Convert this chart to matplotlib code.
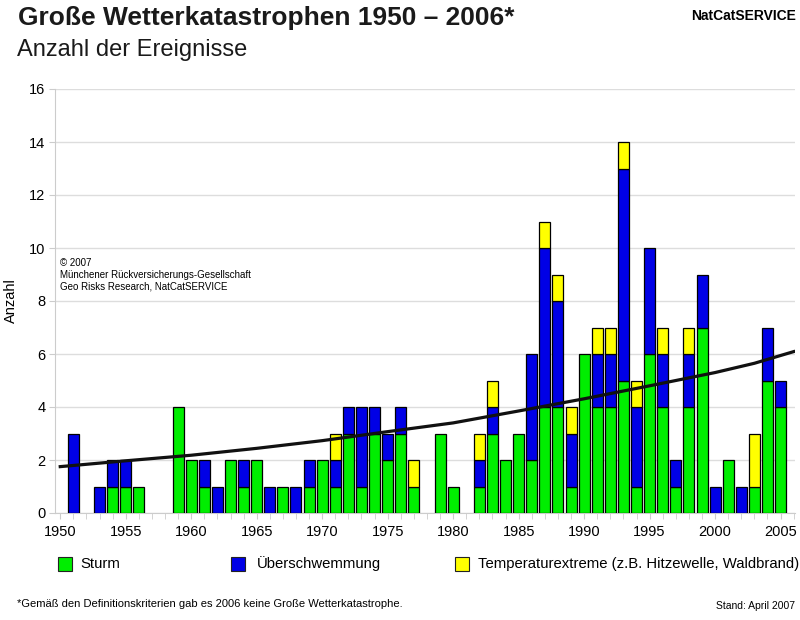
import matplotlib
matplotlib.use("Agg")
import matplotlib.pyplot as plt
from matplotlib.patches import Rectangle
import numpy as np

plt.rcParams['font.family'] = ['Liberation Sans', 'DejaVu Sans']

years = list(range(1950, 2006))
sturm = [0, 0, 0, 0, 1, 1, 1, 0, 0, 4,
         2, 1, 0, 2, 1, 2, 0, 1, 0, 1,
         2, 1, 3, 1, 3, 2, 3, 1, 0, 3,
         1, 0, 1, 3, 2, 3, 2, 4, 4, 1,
         6, 4, 4, 5, 1, 6, 4, 1, 4, 7,
         0, 2, 0, 1, 5, 4]
ueberschwemmung = [0, 3, 0, 1, 1, 1, 0, 0, 0, 0,
                   0, 1, 1, 0, 1, 0, 1, 0, 1, 1,
                   0, 1, 1, 3, 1, 1, 1, 0, 0, 0,
                   0, 0, 1, 1, 0, 0, 4, 6, 4, 2,
                   0, 2, 2, 8, 3, 4, 2, 1, 2, 2,
                   1, 0, 1, 0, 2, 1]
temperatur = [0, 0, 0, 0, 0, 0, 0, 0, 0, 0,
              0, 0, 0, 0, 0, 0, 0, 0, 0, 0,
              0, 1, 0, 0, 0, 0, 0, 1, 0, 0,
              0, 0, 1, 1, 0, 0, 0, 1, 1, 1,
              0, 1, 1, 1, 1, 0, 1, 0, 1, 0,
              0, 0, 0, 2, 0, 0]
trend_years = [1950, 1955, 1960, 1965, 1970, 1975, 1980, 1985, 1990, 1995, 2000, 2003, 2006]
trend_values = [1.75, 1.97, 2.18, 2.44, 2.73, 3.07, 3.40, 3.85, 4.31, 4.80, 5.30, 5.65, 6.09]
xtick_years = [1950, 1955, 1960, 1965, 1970, 1975, 1980, 1985, 1990, 1995, 2000, 2005]
yticks = [0, 2, 4, 6, 8, 10, 12, 14, 16]

c_green = '#00ee00'
c_blue = '#0000e6'
c_yellow = '#ffff00'

W, H = 800, 620
fig = plt.figure(figsize=(8, 6.2), dpi=100)
ax = fig.add_axes([55 / W, 1 - 513 / H, 740 / W, 424 / H])

s = np.array(sturm)
u = np.array(ueberschwemmung)
t = np.array(temperatur)
bw = 0.84
kw = dict(width=bw, edgecolor='black', linewidth=0.9, zorder=3)
ax.bar(years, s, color=c_green, **kw)
ax.bar(years, u, bottom=s, color=c_blue, **kw)
ax.bar(years, t, bottom=s + u, color=c_yellow, **kw)
for p in ax.patches:
    if p.get_height() == 0:
        p.set_visible(False)

ax.plot(trend_years, trend_values, color='#111111', lw=2.3, zorder=4)

ax.set_xlim(1949.6, 2006.1)
ax.set_ylim(0, 16)
ax.set_yticks(yticks)
ax.set_xticks(xtick_years)
ax.set_xticks(years + [2006], minor=True)
ax.tick_params(axis='x', which='both', length=4, color='#cccccc', labelsize=10.5, pad=5)
ax.tick_params(axis='y', length=4, color='#cccccc', labelsize=10.5, pad=3)
ax.grid(axis='y', color='#dddddd', lw=1, zorder=0)
for sp in ['top', 'right']:
    ax.spines[sp].set_visible(False)
for sp in ['left', 'bottom']:
    ax.spines[sp].set_color('#cccccc')
ax.set_ylabel('Anzahl', fontsize=10.5, labelpad=8)

ax.text(5 / 740, (513 - 258) / 424, '© 2007\nMünchener Rückversicherungs-Gesellschaft\nGeo Risks Research, NatCatSERVICE',
        transform=ax.transAxes, fontsize=7.0, va='top', ha='left', linespacing=1.2, zorder=5)

def fx(px):
    return px / W

def fy(py):
    return 1 - py / H

fig.text(fx(18), fy(18), 'Große Wetterkatastrophen 1950 – 2006*', fontsize=19, fontweight='bold',
         va='center', ha='left', color='#1a1a1a')
fig.text(fx(17), fy(50), 'Anzahl der Ereignisse', fontsize=17, va='center', ha='left', color='#1a1a1a')
fig.text(fx(796), fy(16), 'NatCatSERVICE', fontsize=10, fontweight='bold', va='center', ha='right')

leg_items = [(58, 80, c_green, 'Sturm'), (231, 257, c_blue, 'Überschwemmung'),
             (455, 478, c_yellow, 'Temperaturextreme (z.B. Hitzewelle, Waldbrand)')]
for x0, xt, col, lab in leg_items:
    fig.patches.append(Rectangle((fx(x0), fy(571)), 14 / W, 14 / H, transform=fig.transFigure,
                                 facecolor=col, edgecolor='#222222', lw=0.8))
    fig.text(fx(xt), fy(564), lab, fontsize=10.7, va='center', ha='left')

fig.text(fx(17), fy(604), '*Gemäß den Definitionskriterien gab es 2006 keine Große Wetterkatastrophe.',
         fontsize=8, va='center', ha='left')
fig.text(fx(795), fy(606), 'Stand: April 2007', fontsize=7.5, va='center', ha='right')

fig.savefig('out.png', dpi=100)
